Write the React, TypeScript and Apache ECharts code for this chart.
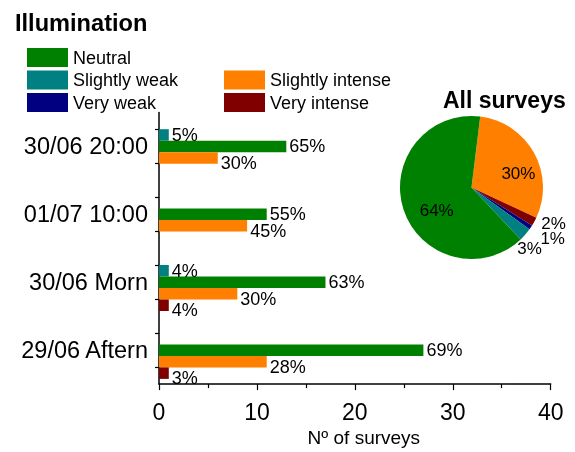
import React, { useEffect, useRef } from "react";
import * as echarts from "echarts";

const categories = ["29/06 Aftern", "30/06 Morn", "01/07 10:00", "30/06 20:00"];
const veryIntense = [1, 1, 0, 0];
const slightlyIntense = [11, 8, 9, 6];
const neutral = [27, 17, 11, 13];
const slightlyWeak = [0, 1, 0, 1];
const veryWeak = [0, 0, 0, 0];

const pctVeryIntense = [3, 4, 0, 0];
const pctSlightlyIntense = [28, 30, 45, 30];
const pctNeutral = [69, 63, 55, 65];
const pctSlightlyWeak = [0, 4, 0, 5];
const pctVeryWeak = [0, 0, 0, 0];

const pieNames = ["Slightly intense", "Very intense", "Very weak", "Slightly weak", "Neutral"];
const pieValues = [30, 2, 1, 3, 64];

const xTicks = [0, 10, 20, 30, 40];
const yTickValues = [0.25, 0.75, 1.25, 1.75, 2.25, 2.75, 3.25, 3.75];

const COLORS: Record<string, string> = {
  "Neutral": "#008000",
  "Slightly weak": "#008080",
  "Very weak": "#000080",
  "Slightly intense": "#FF8000",
  "Very intense": "#800000",
};

// small nudges of the pie labels (dx, dy) by slice index
const pieLabelNudge = [
  [13, 5],
  [-5, -2],
  [-2, 7],
  [-19, 9],
  [2, 11],
];

const FONT = "Liberation Sans, Arial, sans-serif";

export default function App() {
  const ref = useRef<HTMLDivElement>(null);
  useEffect(() => {
    if (!ref.current) return;
    const chart = echarts.init(ref.current, null, { renderer: "svg" });

    const mkBar = (name: string, values: number[], pct: number[], dy: number) => ({
      name,
      type: "bar",
      yAxisIndex: 0,
      barWidth: 11.5,
      barGap: "0%",
      itemStyle: { color: COLORS[name] },
      data: values,
      label: {
        show: true,
        position: "right",
        distance: 3,
        offset: [0, dy],
        color: "#000",
        fontSize: 18,
        fontFamily: FONT,
        formatter: (p: any) => (values[p.dataIndex] > 0 ? pct[p.dataIndex] + "%" : ""),
      },
    });

    const legendCommon = {
      orient: "vertical",
      icon: "rect",
      itemWidth: 41,
      itemHeight: 19,
      itemGap: 3.5,
      padding: 0,
      textStyle: { fontSize: 18, fontFamily: FONT, color: "#000" },
      selectedMode: false,
    };

    chart.setOption({
      animation: false,
      textStyle: { fontFamily: FONT },
      title: [
        {
          text: "Illumination",
          left: 15,
          top: 11,
          padding: 0,
          textStyle: { fontSize: 23.6, fontWeight: "bold", color: "#000", fontFamily: FONT },
        },
        {
          text: "All surveys",
          left: 443,
          top: 88,
          padding: 0,
          textStyle: { fontSize: 23, fontWeight: "bold", color: "#000", fontFamily: FONT },
        },
      ],
      legend: [
        { ...legendCommon, left: 27, top: 48, data: ["Neutral", "Slightly weak", "Very weak"] },
        { ...legendCommon, left: 224, top: 70.5, data: ["Slightly intense", "Very intense"] },
      ],
      grid: { left: 159, right: 24.3, top: 112.5, bottom: 64, containLabel: false },
      xAxis: {
        type: "value",
        min: xTicks[0],
        max: xTicks[xTicks.length - 1],
        interval: 10,
        name: "Nº of surveys",
        nameLocation: "middle",
        nameGap: 40,
        nameTextStyle: { fontSize: 19, color: "#000", fontFamily: FONT, padding: [0, 0, 0, 18] },
        axisLine: { show: true, lineStyle: { color: "#000", width: 1.5 } },
        axisTick: { show: true, length: 6, lineStyle: { color: "#000", width: 1.2 } },
        minorTick: { show: true, splitNumber: 2, length: 4, lineStyle: { color: "#000", width: 1.2 } },
        axisLabel: { fontSize: 23, color: "#000", margin: 16, fontFamily: FONT },
        splitLine: { show: false },
      },
      yAxis: [
        {
          type: "category",
          data: categories,
          axisLine: { show: false },
          axisTick: { show: false },
          axisLabel: { fontSize: 23.5, color: "#000", margin: 11, fontFamily: FONT },
        },
        {
          type: "value",
          position: "left",
          min: 0,
          max: 4,
          interval: 0.25,
          axisLine: { show: true, onZero: false, lineStyle: { color: "#000", width: 1.5 } },
          axisTick: { show: true, length: 4, customValues: yTickValues, lineStyle: { color: "#000", width: 1.2 } },
          axisLabel: { show: false },
          splitLine: { show: false },
        },
      ],
      series: [
        mkBar("Very weak", veryWeak, pctVeryWeak, 0),
        mkBar("Slightly weak", slightlyWeak, pctSlightlyWeak, 0),
        mkBar("Neutral", neutral, pctNeutral, 0),
        mkBar("Slightly intense", slightlyIntense, pctSlightlyIntense, 5),
        mkBar("Very intense", veryIntense, pctVeryIntense, 5),
        {
          type: "pie",
          center: [471.5, 187.5],
          radius: 71.5,
          startAngle: 83,
          clockwise: true,
          legendHoverLink: false,
          avoidLabelOverlap: false,
          data: pieNames.map((n, i) => ({
            name: n,
            value: pieValues[i],
            itemStyle: { color: COLORS[n] },
            label: pieValues[i] > 10 ? { position: "inside" } : { position: "outside" },
          })),
          label: {
            show: true,
            formatter: "{c}%",
            fontSize: 17,
            color: "#000",
            fontFamily: FONT,
            overflow: "none",
          },
          labelLine: { show: false, length: 8, length2: 0 },
          labelLayout: (p: any) => ({
            dx: pieLabelNudge[p.dataIndex][0],
            dy: pieLabelNudge[p.dataIndex][1],
          }),
        },
      ],
    });
    return () => chart.dispose();
  }, []);
  return <div ref={ref} style={{ position: "fixed", left: 0, top: 0, width: 575, height: 452 }} />;
}
